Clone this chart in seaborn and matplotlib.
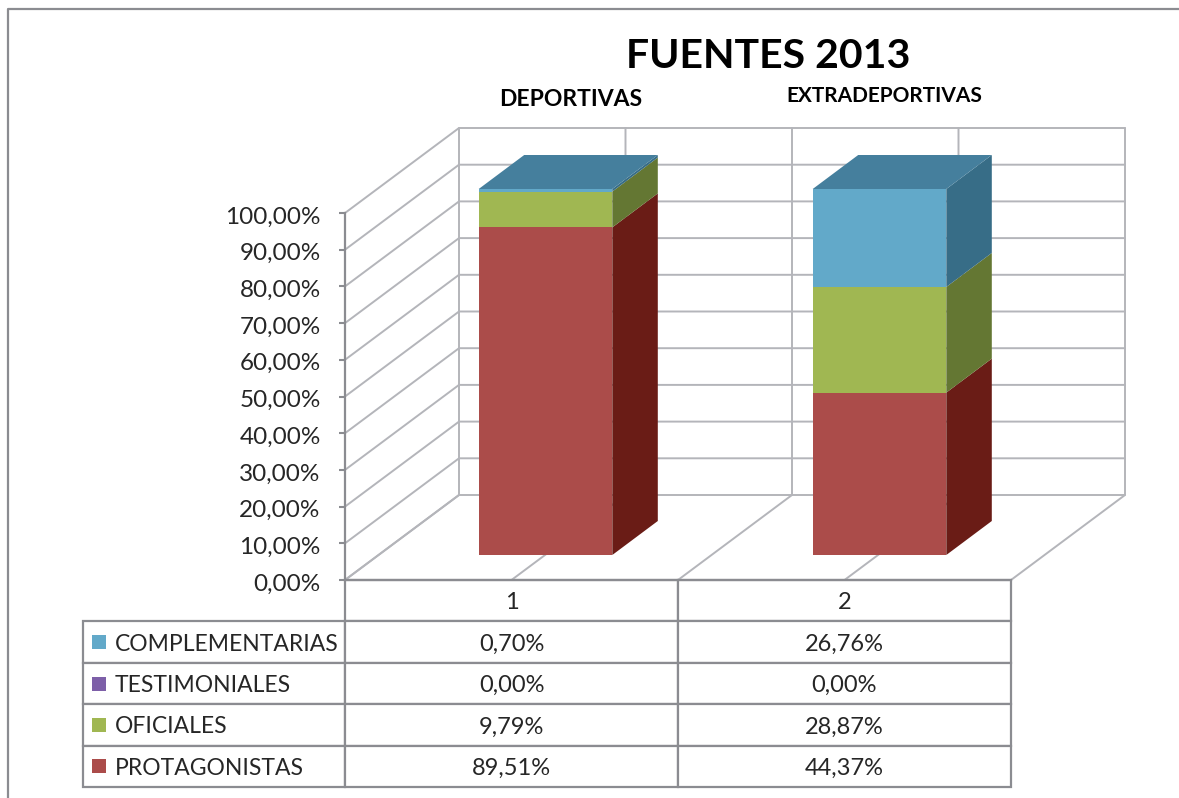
import matplotlib
matplotlib.use("Agg")
import matplotlib.pyplot as plt
import seaborn as sns
import pandas as pd
from matplotlib.lines import Line2D
from matplotlib.patches import Polygon
from matplotlib.transforms import Affine2D, ScaledTranslation

columns = ["DEPORTIVAS", "EXTRADEPORTIVAS"]
col_headers = ["1", "2"]
series_names = ["PROTAGONISTAS", "OFICIALES", "TESTIMONIALES", "COMPLEMENTARIAS"]
protagonistas = [89.51, 44.37]
oficiales = [9.79, 28.87]
testimoniales = [0.00, 0.00]
complementarias = [0.70, 26.76]
y_ticks = list(range(0, 101, 10))
front_colors = ["#AB4C4A", "#A0B752", "#7D5FA8", "#62A9C9"]
side_colors = ["#6A1C16", "#647733", "#4A3468", "#376D87"]
top_color = "#457F9D"

W, H = 1179, 798
sns.set_theme(style="white")
plt.rcParams["font.family"] = ["Lato", "DejaVu Sans"]
fig = plt.figure(figsize=(W / 100, H / 100), dpi=100, facecolor="white")


def box(l, t, r, b):
    return [l / W, 1 - b / H, (r - l) / W, (b - t) / H]


GRID = "#b4b5ba"
AXC = "#8b8c91"
TXT = "#262626"

# front plane of the chart box
ax = fig.add_axes(box(345, 213, 1011, 580))
ax.set_xlim(0, 2)
ax.set_ylim(0, 100)
ax.patch.set_alpha(0)
DX, DY = 114 / 333, 85 / 3.67

for v in y_ticks:
    ax.plot([0, DX, 2 + DX], [v, v + DY, v + DY], color=GRID, lw=1.4, clip_on=False, zorder=1)
for xv in [0, 0.5, 1, 1.5, 2]:
    ax.plot([xv, xv + DX, xv + DX], [0, DY, 100 + DY], color=GRID, lw=1.4, clip_on=False, zorder=1)

ax.set_xticks([])
ax.set_yticks(y_ticks)
ax.set_yticklabels([f"{v},00%" for v in y_ticks], fontsize=17.5, color=TXT)
ax.tick_params(axis="y", left=True, length=4.5, width=1.5, color=AXC, pad=13)
down = ScaledTranslation(0, -4 / 100, fig.dpi_scale_trans)
for lab in ax.get_yticklabels():
    lab.set_verticalalignment("center")
    lab.set_transform(lab.get_transform() + down)
for s in ["top", "right"]:
    ax.spines[s].set_visible(False)
for s in ["left", "bottom"]:
    ax.spines[s].set_color(AXC)
    ax.spines[s].set_linewidth(1.6)
    ax.spines[s].set_zorder(2)

# plane of the bars
axb = fig.add_axes(box(378.5, 189, 1046.5, 555))
axb.patch.set_alpha(0)
BAR_W = 0.4
BDX, BDY = 45.5 / 334, 34 / 3.66
table_series = [protagonistas, oficiales, testimoniales, complementarias]
bottoms = [0.0, 0.0]
for vals, name, fc, sc in zip(table_series, series_names, front_colors, side_colors):
    df = pd.DataFrame({"col": columns, "val": vals})
    sns.barplot(data=df, x="col", y="val", order=columns, color=fc, saturation=1,
                width=BAR_W, bottom=bottoms, ax=axb, linewidth=0, zorder=3)
    for i, v in enumerate(vals):
        if v <= 0:
            continue
        x1 = i + BAR_W / 2
        y0, y1 = bottoms[i], bottoms[i] + v
        axb.add_patch(Polygon([(x1, y0), (x1 + BDX, y0 + BDY), (x1 + BDX, y1 + BDY), (x1, y1)],
                              closed=True, fc=sc, ec="none", clip_on=False, zorder=3))
    bottoms = [b + v for b, v in zip(bottoms, vals)]
for i, t in enumerate(bottoms):
    x0, x1 = i - BAR_W / 2, i + BAR_W / 2
    axb.add_patch(Polygon([(x0, t), (x1, t), (x1 + BDX, t + BDY), (x0 + BDX, t + BDY)],
                          closed=True, fc=top_color, ec="none", clip_on=False, zorder=3))
axb.set_xlim(-0.5, 1.5)
axb.set_ylim(0, 100)
axb.axis("off")

# data table
label_w = 262 / 666
table_h = 207 / 367
rows = list(zip(series_names, table_series, front_colors))[::-1]
cell_text = [[f"{v:.2f}%".replace(".", ",") for v in vals] for _, vals, _ in rows]
tb = ax.table(cellText=cell_text, colLabels=col_headers, cellLoc="center",
              colWidths=[0.5, 0.5], bbox=[0, -table_h, 1, table_h])
tb.auto_set_font_size(False)
row_h_frac = tb[0, 0].get_height()
for r, (name, vals, col) in enumerate(rows, start=1):
    cell = tb.add_cell(r, -1, width=label_w, height=row_h_frac, text=name, loc="left")
    cell.PAD = 32 / 262
    yc = -table_h * (r + 0.5) / 5
    ax.scatter([(99.5 - 345) / 666], [yc], transform=ax.transAxes, marker="s", s=112,
               color=col, linewidths=0, clip_on=False, zorder=10)
tb.set_fontsize(17)
for (r, c), cell in tb.get_celld().items():
    cell.set_edgecolor(AXC)
    cell.set_linewidth(1.6)
    t = cell.get_text()
    t.set_color(TXT)
    t.set_transform(Affine2D().translate(0, -2))
    if c == -1:
        t.set_fontsize(16.5)


def ftext(x, y, s, size):
    fig.text(x / W, 1 - y / H, s, ha="center", va="center", fontsize=size,
             fontweight="bold", color="black")


ftext(768, 57, "FUENTES 2013", 29.5)
ftext(571, 100, columns[0], 16.5)
ftext(884, 96, columns[1], 15)

# outer frame
fig.add_artist(Line2D([8 / W, 8 / W, 1], [0, 1 - 9 / H, 1 - 9 / H], color=AXC, lw=1.6))

fig.savefig("out.png", dpi=100)
